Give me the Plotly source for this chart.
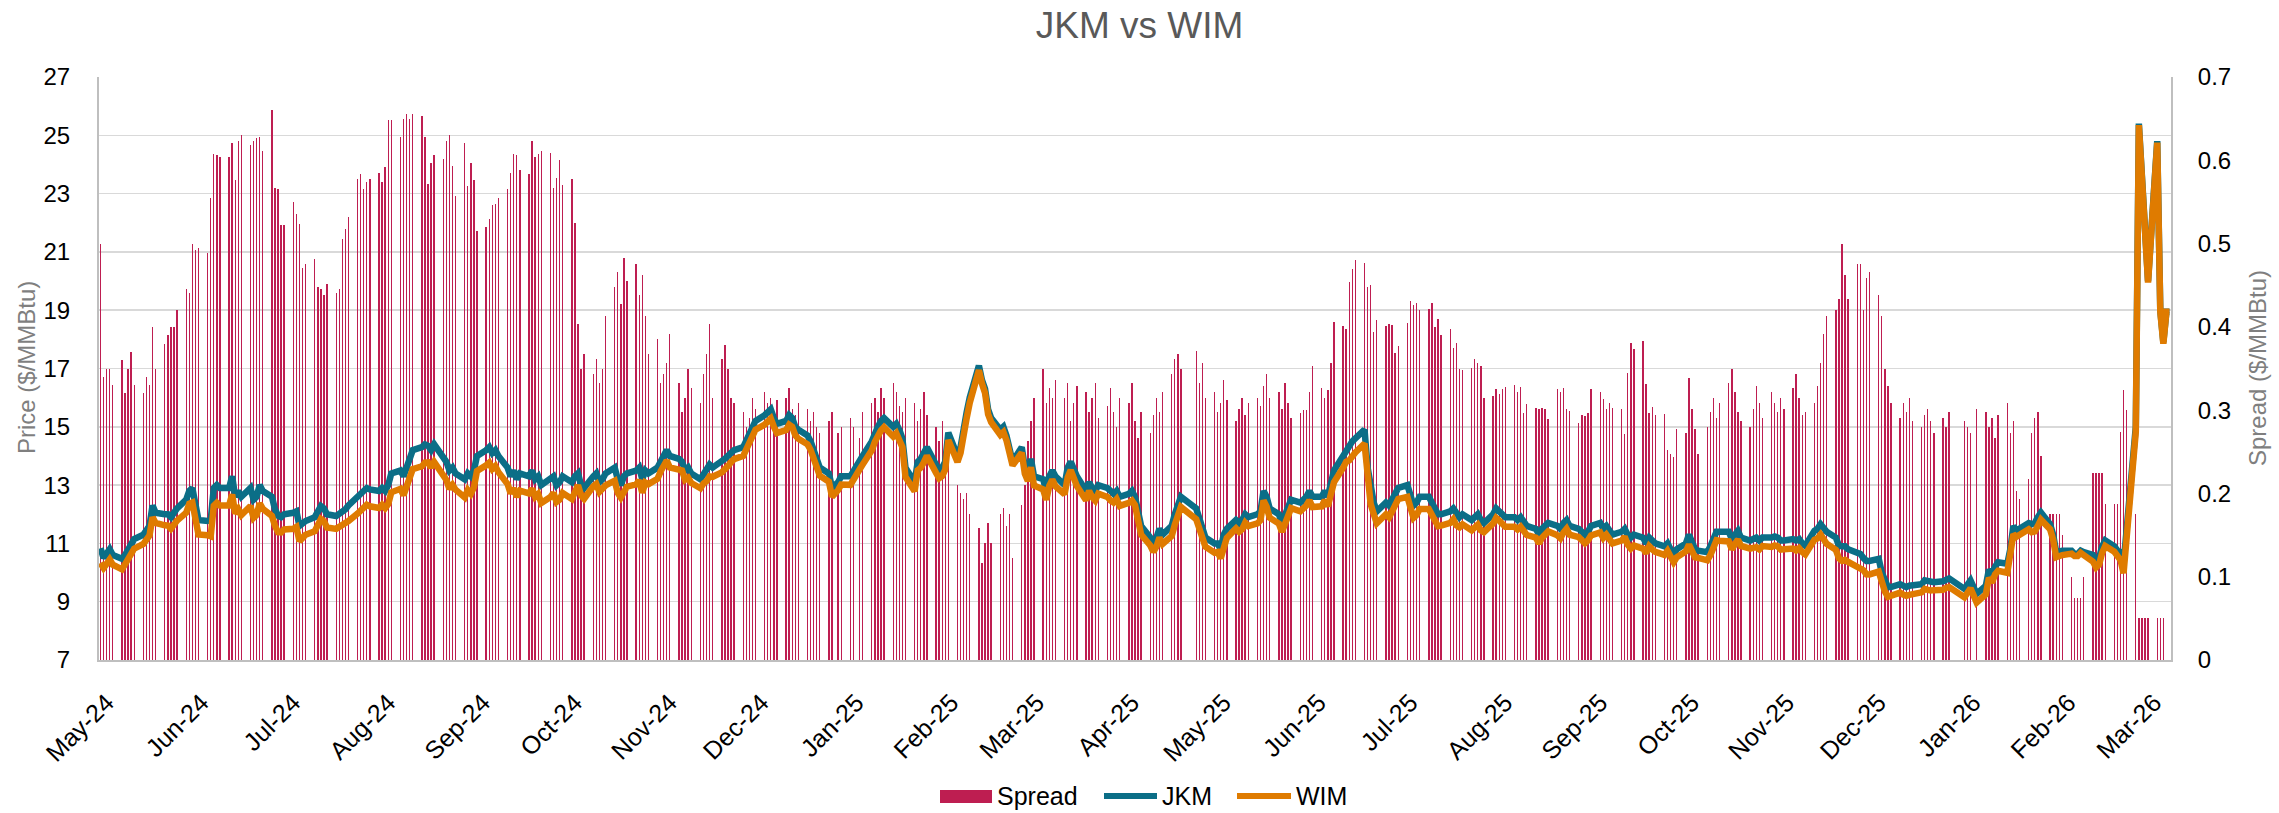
import pandas as pd
import plotly.graph_objects as go

# ---------------- DATA ----------------
# business days (Mon-Fri) shown on the chart, one row per week below
dates = pd.bdate_range("2024-04-29", "2026-03-06")

# Spread ($/MMBtu), one row per week (Mon..Fri); None = no assessment
spread_weeks = [
    [0.50, 0.34, 0.35, 0.35, 0.33],   # 2024-04-29
    [0.36, 0.32, 0.35, 0.37, 0.33],
    [0.32, 0.34, 0.33, 0.40, 0.35],
    [0.38, 0.39, 0.40, 0.40, 0.42],
    [0.446, 0.441, 0.499, 0.492, 0.495],
    [0.489, 0.555, 0.607, 0.606, 0.604],
    [0.604, 0.621, 0.576, 0.623, 0.630],
    [0.618, 0.623, 0.627, 0.628, 0.611],
    [0.660, 0.567, 0.565, 0.522, 0.522],
    [0.550, 0.536, 0.523, 0.471, 0.476],
    [0.481, 0.448, 0.445, 0.438, 0.452],  # 2024-07-08
    [0.441, 0.445, 0.506, 0.518, 0.532],
    [0.578, 0.583, 0.565, 0.574, 0.578],
    [0.585, 0.574, 0.592, 0.648, 0.648],
    [0.628, 0.649, 0.655, 0.649, 0.655],
    [0.653, 0.628, 0.572, 0.597, 0.606],
    [0.602, 0.623, 0.630, 0.593, 0.557],
    [0.621, 0.569, 0.597, 0.576, 0.515],
    [0.520, 0.530, 0.546, 0.548, 0.555],
    [0.565, 0.585, 0.607, 0.606, 0.588],
    [0.583, 0.623, 0.604, 0.607, 0.611],  # 2024-09-16
    [0.609, 0.567, 0.579, 0.600, 0.570],
    [0.578, 0.525, 0.403, 0.350, 0.368],
    [0.343, 0.361, 0.333, 0.350, 0.413],
    [0.448, 0.466, 0.427, 0.483, 0.455],
    [0.476, 0.438, 0.462, 0.413, 0.368],
    [0.385, 0.333, 0.343, 0.357, 0.392],
    [0.333, 0.298, 0.315, 0.350, 0.326],
    [0.308, 0.343, 0.368, 0.403, 0.315],
    [0.361, 0.378, 0.350, 0.315, 0.308],
    [0.298, 0.280, 0.291, 0.315, 0.301],  # 2024-11-25
    [0.322, 0.308, 0.315, 0.298, 0.312],
    [0.315, 0.326, 0.301, 0.294, 0.308],
    [0.301, 0.287, 0.298, 0.280, 0.273],
    [0.287, 0.298, None, 0.273, 0.280],
    [0.291, 0.280, None, 0.266, 0.298],
    [0.308, 0.315, 0.298, 0.326, 0.315],
    [0.333, 0.322, 0.305, 0.298, 0.315],
    [0.308, 0.287, 0.301, 0.322, 0.294],
    [0.280, 0.263, 0.287, 0.270, 0.256],
    [0.210, 0.200, 0.193, 0.200, 0.175],  # 2025-02-03
    [0.158, 0.116, 0.140, 0.165, 0.140],
    [0.175, 0.182, 0.161, 0.175, 0.123],
    [0.186, 0.210, 0.263, 0.287, 0.315],
    [0.350, 0.308, 0.326, 0.315, 0.336],
    [0.315, 0.333, 0.287, 0.308, 0.329],
    [0.322, 0.298, 0.315, 0.333, 0.291],
    [0.305, 0.326, 0.298, 0.280, 0.315],
    [0.308, 0.333, 0.287, 0.266, 0.298],
    [0.273, 0.294, 0.315, 0.298, 0.322],
    [0.343, 0.361, 0.368, 0.350, None],   # 2025-04-14
    [None, 0.371, 0.333, 0.357, 0.315],
    [0.322, 0.298, 0.308, 0.336, 0.312],
    [0.287, 0.301, 0.315, 0.294, 0.308],
    [0.315, 0.305, 0.329, 0.343, 0.315],
    [0.322, 0.301, 0.333, 0.308, 0.291],
    [0.297, 0.300, 0.300, 0.322, 0.353],
    [0.327, 0.314, 0.324, 0.357, 0.406],
    [0.401, 0.398, 0.454, 0.470, 0.480],
    [0.477, 0.448, 0.450, 0.394, 0.408],
    [0.401, 0.404, 0.402, 0.369, 0.377],  # 2025-06-23
    [0.405, 0.431, 0.426, 0.429, 0.420],
    [0.422, 0.429, 0.400, 0.409, 0.390],
    [0.397, 0.375, 0.381, 0.350, 0.348],
    [0.351, 0.361, 0.357, 0.353, 0.314],
    [0.317, 0.325, 0.319, 0.325, 0.328],
    [0.330, 0.322, 0.328, 0.296, 0.307],
    [0.302, 0.301, 0.303, 0.301, 0.289],
    [0.325, 0.322, 0.326, 0.301, 0.299],
    [0.285, 0.294, 0.293, 0.296, 0.325],
    [0.322, 0.313, 0.301, 0.308, 0.302],  # 2025-09-01
    [0.301, 0.271, 0.345, 0.381, 0.374],
    [0.383, 0.331, 0.296, 0.304, 0.294],
    [0.295, 0.252, 0.247, 0.244, 0.277],
    [0.273, 0.339, 0.301, 0.277, 0.247],
    [0.280, 0.298, 0.315, 0.291, 0.308],
    [0.333, 0.350, 0.322, 0.298, 0.287],
    [0.280, 0.301, 0.329, 0.308, 0.291],
    [0.322, 0.308, 0.298, 0.315, 0.301],
    [0.326, 0.343, 0.315, 0.294, 0.298],
    [0.308, 0.329, 0.357, 0.392, 0.413],  # 2025-11-10
    [0.420, 0.434, 0.500, 0.462, 0.434],
    [0.476, 0.476, 0.420, 0.459, 0.466],
    [0.438, 0.413, 0.350, 0.329, 0.308],
    [0.291, 0.308, 0.298, 0.315, 0.287],
    [0.280, 0.294, 0.301, 0.287, 0.273],
    [0.291, 0.280, 0.298, None, None],
    [0.287, 0.280, 0.273, None, 0.301],
    [0.298, 0.280, 0.291, 0.266, 0.294],
    [0.308, 0.273, 0.287, 0.203, 0.193],
    [0.217, 0.273, 0.291, 0.298, 0.245],  # 2026-01-19
    [0.175, 0.175, 0.175, 0.175, 0.150],
    [0.100, 0.074, 0.075, 0.075, 0.100],
    [0.224, 0.224, 0.224, 0.224, 0.187],
    [0.187, 0.187, 0.274, 0.324, 0.300],
    [0.175, 0.050, 0.050, 0.050, 0.050],
    [0.050, 0.050, 0.050, 0.0, 0.0],      # 2026-03-02
]

# JKM ($/MMBtu), one row per week (Mon..Fri)
jkm_weeks = [
    [10.83, 10.50, 10.65, 10.80, 10.60],  # 2024-04-29
    [10.47, 10.60, 10.80, 11.00, 11.15],
    [11.30, 11.43, 11.60, 12.30, 12.05],
    [12.00, 12.00, 11.90, 12.10, 12.20],
    [12.50, 12.80, 12.90, 12.20, 11.80],
    [11.77, 11.80, 12.90, 13.00, 12.90],
    [12.90, 13.30, 12.60, 12.80, 12.60],
    [12.90, 12.50, 12.60, 13.00, 12.80],
    [12.60, 12.17, 11.95, 11.90, 12.00],
    [12.05, 12.10, 11.60, 11.70, 11.77],
    [11.90, 12.10, 12.28, 12.20, 12.00],  # 2024-07-08
    [11.94, 12.00, 12.10, 12.17, 12.30],
    [12.60, 12.70, 12.80, 12.90, 12.85],
    [12.80, 12.90, 12.80, 13.00, 13.40],
    [13.50, 13.30, 13.60, 14.00, 14.20],
    [14.30, 14.40, 14.35, 14.20, 14.40],
    [14.00, 13.80, 13.50, 13.60, 13.40],
    [13.20, 13.40, 13.30, 13.50, 14.00],
    [14.20, 14.30, 14.10, 14.20, 14.00],
    [13.60, 13.30, 13.50, 13.20, 13.40],
    [13.30, 13.50, 13.20, 13.30, 13.00],  # 2024-09-16
    [13.20, 13.30, 13.00, 13.10, 13.30],
    [13.10, 13.30, 13.40, 13.00, 12.90],
    [13.30, 13.40, 13.10, 13.20, 13.40],
    [13.60, 13.20, 13.00, 13.30, 13.40],
    [13.50, 13.60, 13.20, 13.50, 13.40],
    [13.60, 13.80, 14.00, 14.20, 14.00],
    [13.90, 13.80, 13.50, 13.60, 13.40],
    [13.20, 13.40, 13.50, 13.70, 13.60],
    [13.80, 13.90, 14.00, 14.10, 14.20],
    [14.30, 14.50, 14.80, 15.00, 15.20],  # 2024-11-25
    [15.40, 15.50, 15.60, 15.30, 15.10],
    [15.20, 15.40, 15.30, 15.00, 14.90],
    [14.70, 14.50, 14.20, 14.00, 13.60],
    [13.40, 12.90, None, 13.10, 13.30],
    [13.30, 13.50, None, 13.80, 14.00],
    [14.50, 14.80, 15.00, 15.20, 15.30],
    [15.00, 15.10, 14.90, 14.60, 13.60],
    [13.10, 13.80, 13.90, 14.10, 14.30],
    [13.70, 13.50, 13.60, 13.80, 14.80],
    [14.00, 14.30, 15.00, 15.50, 16.00],  # 2025-02-03
    [17.10, 16.60, 16.30, 15.60, 15.30],
    [14.90, 15.00, 14.70, 14.30, 13.80],
    [14.30, 13.60, 13.40, 13.90, 13.30],
    [13.20, 12.80, 13.30, 13.50, 13.30],
    [13.00, 13.60, 13.80, 13.50, 13.30],
    [12.80, 13.10, 12.90, 12.80, 13.00],
    [12.90, 12.80, 12.70, 12.80, 12.60],
    [12.70, 12.80, 12.60, 12.00, 11.60],
    [11.20, 11.00, 11.20, 11.50, 11.30],
    [11.60, 12.00, 12.40, 12.60, None],   # 2025-04-14
    [None, 12.20, 11.80, 11.50, 11.20],
    [11.00, 11.00, 10.80, 11.30, 11.50],
    [11.80, 11.70, 11.80, 12.00, 11.90],
    [12.00, 12.10, 12.80, 12.60, 12.20],
    [12.00, 11.70, 12.00, 12.30, 12.50],
    [12.40, 12.50, 12.60, 12.80, 12.60],
    [12.60, 12.80, 12.60, 13.00, 13.50],
    [14.00, 14.20, 14.30, 14.50, 14.60],
    [14.90, 13.60, 12.80, 12.40, 12.10],
    [12.40, 12.30, 12.50, 12.70, 12.90],  # 2025-06-23
    [13.00, 12.60, 12.30, 12.40, 12.60],
    [12.60, 12.40, 12.20, 12.00, 12.00],
    [12.10, 12.20, 12.00, 11.90, 12.00],
    [11.80, 11.90, 12.00, 11.80, 11.70],
    [12.00, 12.20, 12.10, 12.00, 11.90],
    [11.90, 11.80, 11.90, 11.70, 11.60],
    [11.50, 11.30, 11.50, 11.60, 11.70],
    [11.60, 11.50, 11.70, 11.80, 11.60],
    [11.50, 11.40, 11.30, 11.40, 11.60],
    [11.70, 11.50, 11.60, 11.40, 11.30],  # 2025-09-01
    [11.40, 11.50, 11.30, 11.20, 11.30],
    [11.20, 11.00, 11.20, 11.10, 11.00],
    [10.90, 11.00, 10.80, 10.60, 10.80],
    [11.00, 11.30, 11.00, 10.80, 10.75],
    [10.70, 10.90, 11.20, 11.40, 11.40],
    [11.40, 11.15, 11.30, 11.43, 11.20],
    [11.10, 11.15, 11.20, 11.10, 11.20],
    [11.20, 11.24, 11.20, 11.10, 11.10],
    [11.15, 11.10, 11.15, 11.00, 10.92],
    [11.43, 11.50, 11.66, 11.50, 11.40],  # 2025-11-10
    [11.20, 10.92, 10.90, 10.90, 10.80],
    [10.70, 10.64, 10.50, 10.40, 10.40],
    [10.47, 10.00, 9.70, 9.50, 9.50],
    [9.60, 9.55, 9.50, 9.55, 9.55],
    [9.60, 9.73, 9.70, 9.67, 9.67],
    [9.70, 9.75, 9.80, None, None],
    [9.44, 9.60, 9.73, None, 9.27],
    [9.55, 10.10, 9.95, 10.20, 10.35],
    [10.30, 10.80, 11.60, 11.43, 11.50],
    [11.70, 11.66, 11.70, 11.90, 12.06],  # 2026-01-19
    [11.66, 11.30, 10.70, 10.75, 10.75],
    [10.75, 10.64, 10.64, 10.75, 10.70],
    [10.60, 10.40, 10.50, 10.90, 11.10],
    [10.90, 10.75, 10.70, 10.30, 11.47],
    [15.00, 25.40, 23.60, 21.80, 20.00],
    [24.80, 19.00, 17.90, 18.95, 18.95],  # 2026-03-02
]

month_ticks = pd.date_range("2024-05-01", "2026-03-01", freq="MS")
month_labels = [d.strftime("%b-%y") for d in month_ticks]

# ---------------- PREP ----------------
spread = [v for row in spread_weeks for v in row]
jkm = [v for row in jkm_weeks for v in row]
n = len(dates)
spread = (spread + [None] * n)[:n]
jkm = (jkm + [None] * n)[:n]
# WIM = JKM - Spread (the spread is the JKM/WIM differential)
wim = [None if (j is None or s is None) else round(j - s, 3) for j, s in zip(jkm, spread)]

C_BAR = "#BE1E51"
C_JKM = "#0B6E87"
C_WIM = "#DF7B00"
FONT = "Liberation Sans, Arial, sans-serif"

fig = go.Figure()
fig.add_trace(go.Bar(
    x=dates, y=spread, name="Spread", yaxis="y",
    marker=dict(color=C_BAR, line=dict(width=0)),
    width=0.45 * 86400000, showlegend=False,
))
fig.add_trace(go.Scatter(
    x=dates, y=jkm, name="JKM", yaxis="y2", mode="lines",
    line=dict(color=C_JKM, width=6.5), connectgaps=True, showlegend=False,
))
fig.add_trace(go.Scatter(
    x=dates, y=wim, name="WIM", yaxis="y2", mode="lines",
    line=dict(color=C_WIM, width=6.5), connectgaps=True, showlegend=False,
))

PL, PR, PT, PB = 99.0, 2171.0, 77.0, 660.0
def px_x(px):
    return (px - PL) / (PR - PL)
def px_y(py):
    return (PB - py) / (PB - PT)

shapes = [
    dict(type="rect", xref="paper", yref="paper",
         x0=px_x(940), x1=px_x(992), y0=px_y(803), y1=px_y(790),
         fillcolor=C_BAR, line=dict(width=0)),
    dict(type="line", xref="paper", yref="paper",
         x0=px_x(1104), x1=px_x(1157), y0=px_y(796), y1=px_y(796),
         line=dict(color=C_JKM, width=6)),
    dict(type="line", xref="paper", yref="paper",
         x0=px_x(1237), x1=px_x(1291), y0=px_y(796), y1=px_y(796),
         line=dict(color=C_WIM, width=6)),
]
legend_txt = [("Spread", 995), ("JKM", 1160), ("WIM", 1294)]
annotations = [
    dict(text=t, xref="paper", yref="paper", x=px_x(xp), y=px_y(796),
         xanchor="left", yanchor="middle", showarrow=False,
         font=dict(size=25, color="#000000", family=FONT))
    for t, xp in legend_txt
]
# axis titles
annotations += [
    dict(text="Price ($/MMBtu)", xref="paper", yref="paper",
         x=px_x(26), y=px_y(368), xanchor="center", yanchor="middle",
         textangle=-90, showarrow=False,
         font=dict(size=24, color="#7F7F7F", family=FONT)),
    dict(text="Spread ($/MMBtu)", xref="paper", yref="paper",
         x=px_x(2257), y=px_y(368), xanchor="center", yanchor="middle",
         textangle=-90, showarrow=False,
         font=dict(size=24, color="#7F7F7F", family=FONT)),
]

fig.update_layout(
    width=2279, height=813,
    margin=dict(l=99, r=108, t=77, b=153),
    paper_bgcolor="white", plot_bgcolor="white",
    font=dict(family=FONT, color="#000000"),
    title=dict(text="JKM vs WIM", x=0.5, xanchor="center", y=1 - 25 / 813,
               yanchor="middle", font=dict(size=37, color="#595959", family=FONT)),
    bargap=0,
    xaxis=dict(
        type="date",
        range=["2024-04-28 12:00", "2026-03-06 12:00"],
        tickmode="array", tickvals=month_ticks, ticktext=month_labels,
        tickangle=-45, tickfont=dict(size=25, color="#000000"),
        showgrid=False, showline=True, linecolor="#BFBFBF", linewidth=2,
        ticks="", ticklabelstandoff=16, zeroline=False,
    ),
    yaxis=dict(
        side="right", range=[0, 0.7], dtick=0.1, tick0=0,
        tickfont=dict(size=24, color="#000000"),
        showgrid=False, zeroline=False, showline=True,
        linecolor="#BFBFBF", linewidth=2, ticks="", ticklabelstandoff=20,
        automargin=False,
    ),
    yaxis2=dict(
        overlaying="y", side="left", range=[7, 27], dtick=2, tick0=7,
        tickfont=dict(size=24, color="#000000"),
        showgrid=True, gridcolor="#D9D9D9", gridwidth=1.5, zeroline=False,
        showline=True, linecolor="#BFBFBF", linewidth=2,
        ticks="", ticklabelstandoff=22,
        automargin=False,
    ),
    shapes=shapes,
    annotations=annotations,
)

fig.write_html(
    "out.html",
    config={"staticPlot": True},
    post_script="document.body.style.margin='0px';document.body.style.overflow='hidden';",
)
